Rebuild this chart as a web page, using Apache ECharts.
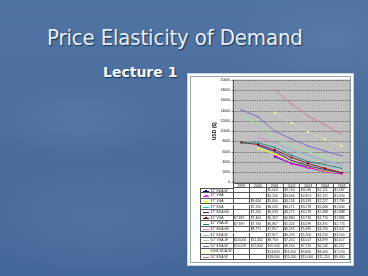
<!DOCTYPE html>
<html><head><meta charset="utf-8">
<script src="https://cdn.jsdelivr.net/npm/echarts@6/dist/echarts.min.js"></script>
<style>
html,body{margin:0;padding:0;width:368px;height:276px;overflow:hidden;}
body{position:relative;background:
 radial-gradient(ellipse 90px 40px at 80px 120px, rgba(120,150,190,0.25), rgba(0,0,0,0)),
 radial-gradient(ellipse 140px 60px at 100px 220px, rgba(110,140,185,0.25), rgba(0,0,0,0)),
 radial-gradient(ellipse 100px 50px at 330px 40px, rgba(120,150,195,0.25), rgba(0,0,0,0)),
 linear-gradient(180deg,#4f73a2 0%,#4a6d9c 50%,#44679a 100%);
 font-family:"Liberation Sans",Arial,sans-serif;}
#title{position:absolute;left:47px;top:25px;font-family:"DejaVu Sans Condensed","DejaVu Sans",sans-serif;font-size:22px;color:#e6eff9;text-shadow:1px 1px 1px #1d3354;white-space:nowrap;letter-spacing:-0.15px;}
#lect{position:absolute;left:103px;top:64px;font-family:"DejaVu Sans",sans-serif;font-weight:bold;font-size:14px;color:#f4f8fc;text-shadow:1px 1px 1px #1d3354;white-space:nowrap;}
#box{position:absolute;left:188px;top:74px;width:165px;height:191px;background:#fff;box-shadow:0 0 0 1px #c8d0dc;}
#box:after{content:"";position:absolute;left:2px;top:2px;right:2px;bottom:2px;border:1px solid #9aa4b0;}
#chart{position:absolute;left:0;top:0;width:368px;height:276px;}
.c{position:absolute;box-sizing:border-box;border-right:1px solid #555;border-bottom:1px solid #555;font-size:3.4px;line-height:5px;color:#222;white-space:nowrap;overflow:hidden;}
</style></head><body>
<div id="title">Price Elasticity of Demand</div>
<div id="lect">Lecture 1</div>
<div id="box"></div>
<div id="chart"></div>
<div id="tbl"></div>
<script>
const categories = ['1999','2000','2001','2002','2003','2004','2005'];
const yTicks = [0,2000,4000,6000,8000,10000,12000,14000,16000,18000,20000];
const seriesNames = ['32" EDA-W','37" VGA','37" VGA','37" EDA','37" EDA-HD','42" VGA','42" VGA-W','42" EDA-HD','42" EDA-W','50" VGA-W','50" EDA-W','50HD EDA-W','50" EDA-W'];
const s1  = [null,null,5000,3750,3030,2115,1687];
const s2  = [null,null,5250,3646,2851,2121,1650];
const s3  = [null,6644,5600,4136,3183,2227,1796];
const s4  = [null,7250,6033,4271,3278,2466,1844];
const s5  = [null,7250,6033,4271,3278,2488,1888];
const s6  = [7819,7400,6357,4880,3730,2770,1886];
const s7  = [7699,7730,6867,5320,4099,3491,2774];
const s8  = [null,8771,7817,6259,5399,4259,3507];
const s9  = [null,null,7817,6259,5300,4250,3500];
const s10 = [13000,11402,8750,7250,6017,4899,4017];
const s11 = [14159,12844,10000,8500,7125,6142,5222];
const s12 = [null,null,13653,11650,9850,8400,7150];
const s13 = [null,null,18000,15300,13000,11250,9400];
const seriesData = [s1,s2,s3,s4,s5,s6,s7,s8,s9,s10,s11,s12,s13];
const colors = ['#000080','#ff00ff','#ffff00','#00cccc','#800080','#800000','#008080','#e08ad8','#66cccc','#99e699','#6464c8','#ffff99','#d07080'];
const symbols = ['diamond','rect','triangle','none','none','circle','none','none','none','none','none','circle','none'];

const GL=233, GR=18, GT=80, GB=93.5;
const chart = echarts.init(document.getElementById('chart'), null, {renderer:'canvas'});
chart.setOption({
  animation:false,
  backgroundColor:'transparent',
  grid:{left:GL,right:GR,top:GT,bottom:GB,show:true,backgroundColor:'#c0c0c0',borderColor:'#808080',borderWidth:0.5},
  xAxis:{type:'category',data:categories,boundaryGap:true,
    axisLine:{show:false},axisTick:{show:false},
    axisLabel:{fontSize:3.6,margin:1.5,color:'#111',fontFamily:'Liberation Sans'}},
  yAxis:{type:'value',min:0,max:20000,interval:2000,
    name:'USD ($)',nameLocation:'middle',nameGap:14,nameRotate:90,
    nameTextStyle:{fontSize:5,color:'#111',fontWeight:'bold',fontFamily:'Liberation Sans'},
    axisLine:{show:true,lineStyle:{color:'#222',width:0.6}},
    axisTick:{show:true,length:1.5,lineStyle:{color:'#222',width:0.6}},
    axisLabel:{fontSize:3.4,margin:3,color:'#111',fontFamily:'Liberation Sans',formatter:v=>String(v)},
    splitLine:{show:true,lineStyle:{color:'#222',width:0.6,type:[1,1.2]}}},
  series: seriesData.map((d,i)=>({
    type:'line',name:seriesNames[i],data:d,connectNulls:false,
    symbol:symbols[i]==='none'?'rect':symbols[i],symbolSize:symbols[i]==='none'?1.2:2.2,
    lineStyle:{color:colors[i],width:0.8,opacity:i===11?0.35:1},itemStyle:{color:colors[i]}
  }))
});

// data table
const tbl=document.getElementById('tbl');
const colW=(368-GL-GR)/categories.length;
const top0=182.5, hdrH=5.2, rowH=5.6, left0=200;
function cell(x,y,w,h,html,extra){const d=document.createElement('div');d.className='c';d.style.left=x+'px';d.style.top=y+'px';d.style.width=w+'px';d.style.height=h+'px';if(extra)d.style.cssText+=extra;d.innerHTML=html||'';tbl.appendChild(d);return d;}
for(let j=0;j<categories.length;j++){cell(GL+j*colW,top0,colW+0.5,hdrH,'', j===0?'border-left:1px solid #555;border-top:1px solid #555;':'border-top:1px solid #555;');}
function fmt(v){return v==null?'':'$'+v.toLocaleString('en-US');}
for(let i=0;i<seriesData.length;i++){
  const y=top0+hdrH+i*rowH;
  const key='<span style="position:absolute;left:2px;top:2.4px;width:6px;height:0.9px;background:'+colors[i]+'"></span>'+
            (symbols[i]!=='none'?'<span style="position:absolute;left:4px;top:1.8px;width:2px;height:2px;background:'+colors[i]+'"></span>':'')+
            '<span style="position:absolute;left:9.5px;top:0">'+seriesNames[i]+'</span>';
  cell(left0,y,GL-left0+0.5,rowH,key,(i===0?'border-top:1px solid #555;':'')+'border-left:1px solid #555;');
  for(let j=0;j<categories.length;j++){
    cell(GL+j*colW,y,colW+0.5,rowH,'<span style="position:absolute;left:1px;top:0.4px">'+fmt(seriesData[i][j])+'</span>');
  }
}
</script>
</body></html>
